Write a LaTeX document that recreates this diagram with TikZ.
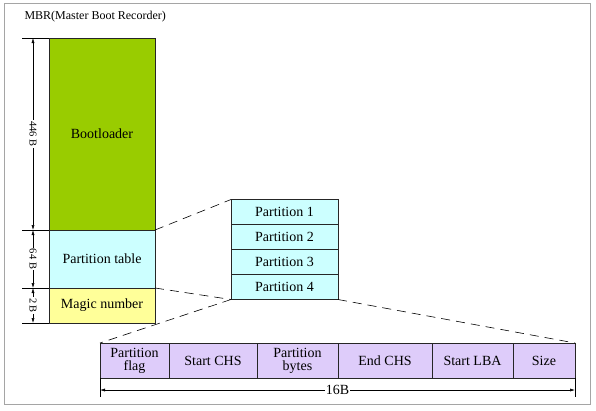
\documentclass[tikz,border=0pt]{standalone}
\usepackage{fontspec}
\setmainfont{Liberation Serif}
\usetikzlibrary{arrows.meta}

\definecolor{bootgreen}{RGB}{153,204,0}
\definecolor{tablecyan}{RGB}{204,255,255}
\definecolor{magicyellow}{RGB}{255,255,153}
\definecolor{entrylilac}{RGB}{222,204,250}
\definecolor{framegray}{RGB}{165,165,165}

\tikzset{
  field/.style={draw=black!85, line width=0.7pt, anchor=north west, inner sep=0pt,
    outer sep=0pt, align=center, font=\fontsize{14}{14}\selectfont},
  mbrfield/.style={field, minimum width=106pt},
  partfield/.style={field, fill=tablecyan, minimum width=107pt, minimum height=25pt},
  entryfield/.style={field, fill=entrylilac, minimum height=35pt},
  dimline/.style={line width=0.5pt, {Latex[length=5pt,width=3pt]}-{Latex[length=5pt,width=3pt]}},
  dimlabel/.style={fill=white, inner sep=1pt, font=\fontsize{10.5}{11}\selectfont},
  zoomline/.style={line width=0.6pt, dash pattern=on 9pt off 6pt}
}

\begin{document}
\begin{tikzpicture}[x=1pt,y=-1pt]
  \useasboundingbox (0,0) rectangle (596,410);
  \draw[framegray, line width=0.8pt] (4,3) rectangle (590,404);

  \node[anchor=west, font=\fontsize{12}{13}\selectfont] (title) at (21,17) {MBR(Master Boot Recorder)};

  % the MBR sector
  \node[mbrfield, fill=bootgreen, minimum height=192pt] (boot) at (49,38) {Bootloader};
  \node[mbrfield, fill=tablecyan, minimum height=58pt] (ptable) at (boot.south west) {Partition table};
  \node[mbrfield, fill=magicyellow, minimum height=35pt] (magic) at (ptable.south west) {Magic number};

  % sizes on the left
  \coordinate (t0) at (22,38);
  \coordinate (t1) at (22,230);
  \coordinate (t2) at (22,288);
  \coordinate (t3) at (22,323);
  \foreach \b in {t0,t1,t2,t3}
    \draw[line width=0.5pt] (\b) -- (\b -| boot.west);
  \draw[dimline] (33,38) -- node[dimlabel, rotate=-90] {446 B} (33,230);
  \draw[dimline] (33,230) -- node[dimlabel, rotate=-90] {64 B} (33,288);
  \draw[dimline] (33,288) -- node[dimlabel, rotate=-90] {2 B} (33,323);

  % the four entries of the table
  \node[partfield] (part1) at (231,199.5) {Partition 1};
  \node[partfield] (part2) at (part1.south west) {Partition 2};
  \node[partfield] (part3) at (part2.south west) {Partition 3};
  \node[partfield] (part4) at (part3.south west) {Partition 4};

  % one entry, 16 bytes
  \node[entryfield, minimum width=69pt] (flag) at (100,343) {Partition\\[-1pt]flag};
  \node[entryfield, minimum width=88pt] (startchs) at (flag.north east) {Start CHS};
  \node[entryfield, minimum width=81pt] (pbytes) at (startchs.north east) {Partition\\[-1pt]bytes};
  \node[entryfield, minimum width=94pt] (endchs) at (pbytes.north east) {End CHS};
  \node[entryfield, minimum width=81pt] (startlba) at (endchs.north east) {Start LBA};
  \node[entryfield, minimum width=62pt] (size) at (startlba.north east) {Size};

  % zoom lines
  \draw[zoomline] (boot.south east) -- (part1.north west);
  \draw[zoomline] (ptable.south east) -- (part4.south west);
  \draw[zoomline] (part4.south west) -- (flag.north west);
  \draw[zoomline] (part4.south east) -- (size.north east);

  % size of one entry
  \coordinate (b0) at ([yshift=-19pt]flag.south west);
  \coordinate (b1) at ([yshift=-19pt]size.south east);
  \draw[line width=0.5pt] (flag.south west) -- (b0);
  \draw[line width=0.5pt] (size.south east) -- (b1);
  \draw[dimline] ([yshift=7pt]b0) -- node[fill=white, inner sep=1pt, font=\fontsize{14}{14}\selectfont] {16B} ([yshift=7pt]b1);
\end{tikzpicture}
\end{document}
